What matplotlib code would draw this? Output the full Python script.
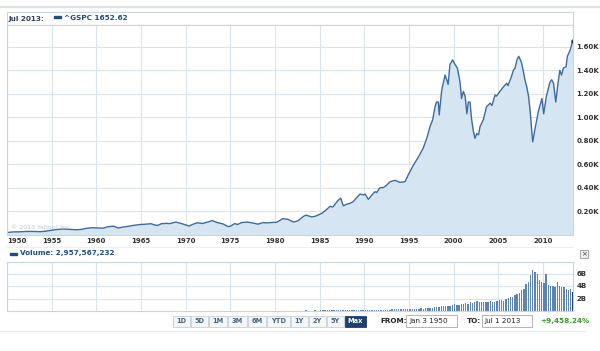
import matplotlib
matplotlib.use('Agg')
import matplotlib.pyplot as plt
from matplotlib.patches import Rectangle
from matplotlib.lines import Line2D

# S&P 500 (^GSPC) close, in thousands
price_dates = [
    1950.0, 1950.7, 1951.5, 1952.2, 1953.0, 1953.7, 1954.3, 1954.8, 1955.5, 1956.3,
    1957.05, 1957.8, 1958.4, 1958.9, 1959.6, 1960.0, 1960.8, 1961.2, 1961.9, 1962.5,
    1963.0, 1963.6, 1964.1, 1964.9, 1965.4, 1966.1, 1966.8, 1967.3, 1967.8, 1968.25,
    1968.9, 1969.56, 1970.4, 1970.7, 1971.3, 1971.9, 1972.7, 1973.0, 1973.5, 1974.2,
    1974.75, 1975.0, 1975.5, 1975.8, 1976.3, 1976.9, 1977.5, 1978.1, 1978.7, 1979.1,
    1979.8, 1980.2, 1980.9, 1981.5, 1982.1, 1982.6, 1983.2, 1983.5, 1984.1, 1984.5,
    1984.9, 1985.24, 1985.6, 1986.17, 1986.5, 1987.0, 1987.37, 1987.66, 1988.04, 1988.4,
    1988.78, 1989.16, 1989.53, 1989.9, 1990.1, 1990.46, 1990.84, 1991.2, 1991.4, 1991.77,
    1992.14, 1992.5, 1992.9, 1993.45, 1994.0, 1994.57, 1994.94, 1995.5, 1996.06, 1996.6,
    1997.0, 1997.37, 1997.67, 1997.93, 1998.1, 1998.3, 1998.4, 1998.68, 1999.05, 1999.24,
    1999.4, 1999.6, 1999.9, 2000.17, 2000.43, 2000.73, 2000.9, 2001.1, 2001.3, 2001.5,
    2001.66, 2001.85, 2002.0, 2002.2, 2002.4, 2002.6, 2002.8, 2002.97, 2003.34, 2003.7,
    2004.1, 2004.3, 2004.65, 2004.8, 2005.2, 2005.6, 2005.96, 2006.1, 2006.5, 2006.7,
    2006.9, 2007.1, 2007.3, 2007.6, 2007.8, 2008.0, 2008.2, 2008.4, 2008.6, 2008.75,
    2008.87, 2009.1, 2009.5, 2009.9, 2010.1, 2010.4, 2010.8, 2011.0, 2011.2, 2011.45,
    2011.7, 2011.9, 2012.1, 2012.3, 2012.6, 2012.75, 2013.05, 2013.23, 2013.35,
]
price_k = [
    0.017, 0.022, 0.023, 0.026, 0.026, 0.024, 0.028, 0.034, 0.042, 0.047,
    0.044, 0.040, 0.044, 0.053, 0.058, 0.056, 0.054, 0.065, 0.071, 0.055,
    0.064, 0.070, 0.077, 0.085, 0.087, 0.092, 0.076, 0.092, 0.095, 0.093,
    0.106, 0.093, 0.072, 0.084, 0.100, 0.094, 0.112, 0.118, 0.103, 0.090,
    0.068, 0.070, 0.093, 0.085, 0.102, 0.106, 0.099, 0.088, 0.102, 0.099,
    0.103, 0.104, 0.136, 0.128, 0.106, 0.118, 0.155, 0.165, 0.150, 0.155,
    0.168, 0.180, 0.200, 0.240, 0.235, 0.285, 0.310, 0.245, 0.258, 0.266,
    0.280, 0.315, 0.345, 0.337, 0.345, 0.300, 0.335, 0.365, 0.358, 0.400,
    0.400, 0.420, 0.450, 0.462, 0.445, 0.450, 0.510, 0.590, 0.660, 0.735,
    0.820, 0.920, 0.980, 1.090, 1.130, 1.130, 1.020, 1.230, 1.360, 1.320,
    1.280, 1.450, 1.490, 1.450, 1.420, 1.300, 1.160, 1.220, 1.180, 1.030,
    1.130, 1.130, 1.000, 0.890, 0.820, 0.860, 0.850, 0.920, 0.980, 1.090,
    1.120, 1.100, 1.190, 1.180, 1.220, 1.260, 1.290, 1.270, 1.350, 1.400,
    1.420, 1.490, 1.520, 1.470, 1.400, 1.320, 1.260, 1.180, 1.040, 0.890,
    0.790, 0.890, 1.050, 1.160, 1.030, 1.180, 1.300, 1.320, 1.290, 1.130,
    1.290, 1.400, 1.360, 1.420, 1.430, 1.520, 1.570, 1.620, 1.652,
]

# average daily volume, in billions: yearly until 1984, then quarterly
vol_yearly_start = 1950
vol_yearly = [
    0.002, 0.0017, 0.0014, 0.0014, 0.0023, 0.0026, 0.0022, 0.0024, 0.003, 0.0036,
    0.003, 0.0041, 0.0036, 0.0046, 0.0048, 0.0062, 0.0074, 0.010, 0.013, 0.0115,
    0.0117, 0.0155, 0.0165, 0.016, 0.0135, 0.0185, 0.021, 0.021, 0.028, 0.032,
    0.045, 0.047, 0.065, 0.085, 0.091,
]
vol_quarterly_start = 1985
vol_quarterly = [
    0.10, 0.11, 0.11, 0.12,  0.14, 0.14, 0.13, 0.14,  0.18, 0.17, 0.18, 0.22,
    0.16, 0.16, 0.15, 0.15,  0.16, 0.16, 0.17, 0.17,  0.16, 0.16, 0.15, 0.16,
    0.18, 0.17, 0.17, 0.19,  0.21, 0.19, 0.19, 0.21,  0.25, 0.25, 0.26, 0.27,
    0.30, 0.28, 0.29, 0.30,  0.33, 0.34, 0.35, 0.36,  0.40, 0.42, 0.40, 0.45,
    0.50, 0.52, 0.55, 0.60,  0.65, 0.68, 0.75, 0.78,  0.80, 0.82, 0.80, 0.90,
    1.05, 1.00, 0.95, 1.10,  1.20, 1.25, 1.20, 1.40,  1.35, 1.40, 1.55, 1.50,
    1.45, 1.45, 1.40, 1.45,  1.55, 1.50, 1.45, 1.55,  1.70, 1.70, 1.65, 1.90,
    2.10, 2.30, 2.20, 2.50,  2.70, 2.90, 3.40, 3.60,  4.30, 4.60, 5.80, 6.60,
    6.30, 5.90, 4.90, 4.70,  4.50, 5.90, 4.10, 4.00,  4.00, 3.90, 4.60, 4.00,
    3.90, 3.80, 3.50, 3.40,  3.50, 3.00,
]

year_ticks = list(range(1950, 2011, 5))
price_ticks = [0.2, 0.4, 0.6, 0.8, 1.0, 1.2, 1.4, 1.6]
vol_ticks = [2, 4, 6]
buttons = ['1D', '5D', '1M', '3M', '6M', 'YTD', '1Y', '2Y', '5Y', 'Max']

LINE = '#3e6a9c'
FILL = '#d5e5f1'
GRID = '#dae4ec'
SPINE = '#c9d5df'
TXT = '#333333'
NAVY = '#1f4b86'

W, H = 600, 351


def fx(x):
    return x / W


def fy(y):
    return 1 - y / H


def box(x0, y0, x1, y1):
    return [fx(x0), fy(y1), fx(x1) - fx(x0), fy(y0) - fy(y1)]


fig = plt.figure(figsize=(6, 3.51), dpi=100)
fig.patch.set_facecolor('white')

# thin rule on top of the widget
fig.add_artist(Line2D([0, 1], [fy(6.5), fy(6.5)], color='#e2e2e2', lw=1.6))

# header strip above the price chart
hx = fig.add_axes(box(7, 12, 573, 25))
hx.set_xticks([])
hx.set_yticks([])
for s in hx.spines.values():
    s.set_color(SPINE)
    s.set_linewidth(0.8)
fig.text(fx(8), fy(18.5), 'Jul 2013:', fontsize=5.2, fontweight='bold', color='#2f3f5f', va='center')
fig.add_artist(Rectangle((fx(54), fy(18.3)), fx(7), fy(15.8) - fy(18.3), color=NAVY, transform=fig.transFigure))
fig.text(fx(64), fy(18.5), '^GSPC 1652.62', fontsize=5.2, fontweight='bold', color=NAVY, va='center')

# price chart
ax = fig.add_axes(box(7, 25, 573, 234.5))
ax.fill_between(price_dates, price_k, 0, color=FILL, lw=0)
ax.plot(price_dates, price_k, color=LINE, lw=1.0)
ax.plot(price_dates[-1], price_k[-1], 'o', color='#163a6e', ms=2.2)
ax.set_xlim(1950, 2013.38)
ax.set_ylim(0, 1.787)
ax.set_xticks(year_ticks)
ax.set_xticklabels([str(y) for y in year_ticks], fontweight='bold')
ax.get_xticklabels()[0].set_horizontalalignment('left')
ax.yaxis.tick_right()
ax.set_yticks(price_ticks)
ax.set_yticklabels(['%.2fK' % v for v in price_ticks], fontweight='bold')
ax.tick_params(length=0, labelsize=5, colors=TXT, pad=2.5)
ax.grid(True, color=GRID, lw=0.8)
ax.set_axisbelow(True)
for s in ax.spines.values():
    s.set_color(SPINE)
    s.set_linewidth(0.8)
ax.text(1950.4, 0.045, '\u00a9 2013 Yahoo! Inc.', fontsize=4.5, color='#b9c6d2')

# volume header
fig.add_artist(Line2D([fx(7), fx(573)], [fy(247), fy(247)], color='#eeeeee', lw=0.8))
fig.add_artist(Rectangle((fx(10), fy(255)), fx(7), fy(252.5) - fy(255), color=NAVY, transform=fig.transFigure))
fig.text(fx(20), fy(253.5), 'Volume: 2,957,567,232', fontsize=5.2, fontweight='bold', color=NAVY, va='center')

# close button
fig.add_artist(Rectangle((fx(580), fy(258)), fx(8), fy(250) - fy(258), facecolor='#f0f0f0',
                         edgecolor='#9a9a9a', lw=0.6, transform=fig.transFigure))
fig.text(fx(584), fy(254.2), '\u00d7', fontsize=5, color='#444444', ha='center', va='center')

# volume chart
vx = fig.add_axes(box(7, 262, 573, 311))
yr_x = [vol_yearly_start + i + 0.5 for i in range(len(vol_yearly))]
q_x = [vol_quarterly_start + i * 0.25 + 0.125 for i in range(len(vol_quarterly))]
vx.bar(yr_x, vol_yearly, width=0.15, color='#5b84b4', lw=0)
vx.bar(q_x[:-1], vol_quarterly[:-1], width=0.15, color='#5b84b4', lw=0)
vx.bar(q_x[-1:], vol_quarterly[-1:], width=0.2, color='#163a6e', lw=0)
vx.set_xlim(1950, 2013.38)
vx.set_ylim(0, 7.84)
vx.set_xticks(year_ticks)
vx.set_xticklabels([])
vx.yaxis.tick_right()
vx.set_yticks(vol_ticks)
vx.set_yticklabels(['%dB' % v for v in vol_ticks], fontweight='bold')
vx.tick_params(length=0, labelsize=5, colors=TXT, pad=2.5)
vx.grid(True, color=GRID, lw=0.8)
vx.set_axisbelow(True)
for s in vx.spines.values():
    s.set_color(SPINE)
    s.set_linewidth(0.8)

# range buttons
edges = [172.7, 190.7, 208.3, 227.7, 247.3, 266.7, 290.0, 308.0, 326.7, 344.3, 366.7]
for i, lab in enumerate(buttons):
    x0, x1 = edges[i] + 0.5, edges[i + 1] - 0.5
    sel = lab == 'Max'
    fig.add_artist(Rectangle((fx(x0), fy(326.5)), fx(x1 - x0), fy(315.5) - fy(326.5),
                             facecolor='#1f3f6e' if sel else '#f4f6f8',
                             edgecolor='#1f3f6e' if sel else '#c6ced6', lw=0.6,
                             transform=fig.transFigure))
    fig.text(fx((x0 + x1) / 2), fy(321.2), lab, fontsize=4.8, fontweight='bold',
             color='white' if sel else '#4a6584', ha='center', va='center')

fig.text(fx(380), fy(321.2), 'FROM:', fontsize=5.2, fontweight='bold', color='#222222', va='center')
fig.add_artist(Rectangle((fx(406), fy(327)), fx(51), fy(315) - fy(327), facecolor='white',
                         edgecolor='#aaaaaa', lw=0.6, transform=fig.transFigure))
fig.text(fx(409), fy(321.2), 'Jan 3 1950', fontsize=5.2, color='#222222', va='center')
fig.text(fx(466.5), fy(321.2), 'TO:', fontsize=5.2, fontweight='bold', color='#222222', va='center')
fig.add_artist(Rectangle((fx(481.7), fy(327)), fx(50), fy(315) - fy(327), facecolor='white',
                         edgecolor='#aaaaaa', lw=0.6, transform=fig.transFigure))
fig.text(fx(484.5), fy(321.2), 'Jul 1 2013', fontsize=5.2, color='#222222', va='center')
fig.text(fx(540), fy(321.2), '+9,458.24%', fontsize=5.2, fontweight='bold', color='#3d9a2b', va='center')

fig.add_artist(Line2D([0, fx(585)], [fy(331), fy(331)], color='#ececec', lw=0.8))

fig.savefig('out.png', dpi=100, facecolor='white')
